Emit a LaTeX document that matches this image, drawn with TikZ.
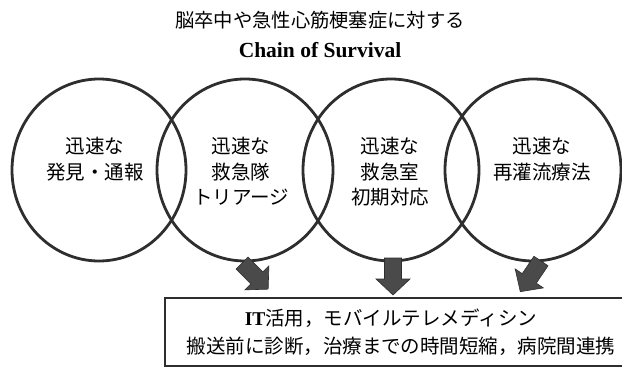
\documentclass[tikz,border=0pt]{standalone}
\usepackage{fontspec}
\setmainfont{Liberation Serif}
\newfontfamily\jp{Noto Sans CJK JP}
\definecolor{inkline}{HTML}{2E2E2E}
\definecolor{arrowfill}{HTML}{4A4A4A}
\tikzset{
  ring/.style={draw=inkline, line width=2.8pt},
  ctext/.style={font=\jp\fontsize{19.5}{25.5}\selectfont, align=center, text=black, inner sep=0pt},
  blockarrow/.pic={\fill[arrowfill, draw=inkline, line width=0.6pt]
     (0,-8.5) -- (21,-8.5) -- (21,-17) -- (37,0) -- (21,17) -- (21,8.5) -- (0,8.5) -- cycle;},
}
\begin{document}
\begin{tikzpicture}[x=1pt,y=1pt]
\useasboundingbox[fill=white] (0,0) rectangle (622,-369);
% title
\node[font=\jp\fontsize{19.3}{20}\selectfont, inner sep=0pt] (title) at (320,-20) {脳卒中や急性心筋梗塞症に対する};
\node[font=\bfseries\fontsize{21.5}{22}\selectfont, inner sep=0pt] (chain) at (320,-50) {Chain of Survival};
% rings
\draw[ring] (99,-170) ellipse [x radius=87, y radius=91];
\draw[ring] (245,-170) ellipse [x radius=88, y radius=91];
\draw[ring] (391,-170) ellipse [x radius=88, y radius=91];
\draw[ring] (533,-170) ellipse [x radius=88, y radius=91];
% ring texts
\node[ctext, anchor=north] (t1) at (95,-137) {迅速な\\発見・通報};
\node[ctext, anchor=north] (t2) at (241,-137) {迅速な\\救急隊\\トリアージ};
\node[ctext, anchor=north] (t3) at (390,-137) {迅速な\\救急室\\初期対応};
\node[ctext, anchor=north] (t4) at (542,-137) {迅速な\\再灌流療法};
% arrows
\pic[rotate=-45] at (242,-263) {blockarrow};
\pic[rotate=-90] at (393,-258) {blockarrow};
\pic[rotate=-124] at (541,-261) {blockarrow};
% box
\draw[draw=inkline, line width=1.3pt] (165,-298) rectangle (640,-366);
\node[font=\jp\fontsize{19.5}{20}\selectfont, inner sep=0pt] (b1) at (391,-318) {{\rmfamily\bfseries IT}活用，モバイルテレメディシン};
\node[font=\jp\fontsize{19.5}{20}\selectfont, inner sep=0pt] (b2) at (401,-346) {搬送前に診断，治療までの時間短縮，病院間連携};
\end{tikzpicture}
\end{document}
